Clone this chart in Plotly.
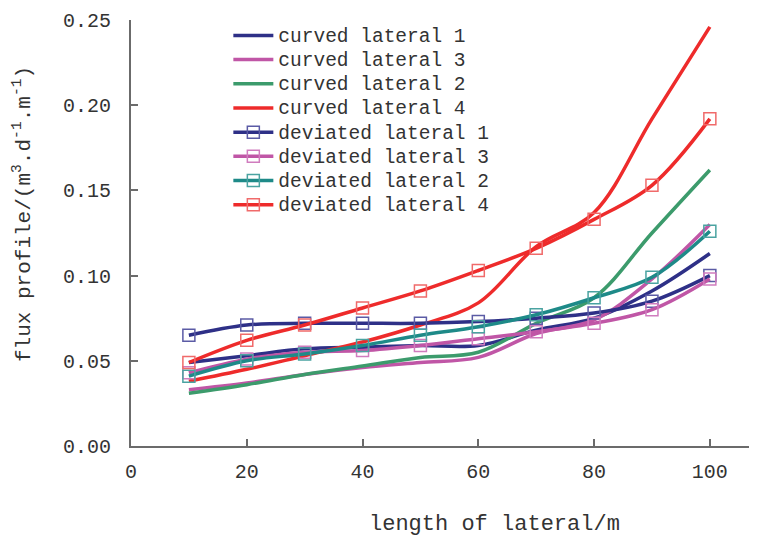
import plotly.graph_objects as go

x_len = [10, 20, 30, 40, 50, 60, 70, 80, 90, 100]

curved_1 = [0.049, 0.053, 0.057, 0.058, 0.059, 0.059, 0.068, 0.075, 0.091, 0.113]
curved_3 = [0.033, 0.037, 0.042, 0.046, 0.049, 0.052, 0.066, 0.074, 0.098, 0.130]
curved_2 = [0.031, 0.036, 0.042, 0.047, 0.052, 0.055, 0.072, 0.087, 0.125, 0.162]
curved_4 = [0.038, 0.045, 0.053, 0.061, 0.071, 0.084, 0.117, 0.137, 0.192, 0.246]
deviated_1 = [0.065, 0.071, 0.072, 0.072, 0.072, 0.073, 0.075, 0.078, 0.085, 0.100]
deviated_3 = [0.043, 0.051, 0.055, 0.056, 0.059, 0.063, 0.067, 0.072, 0.080, 0.098]
deviated_2 = [0.041, 0.050, 0.054, 0.059, 0.065, 0.070, 0.077, 0.087, 0.099, 0.126]
deviated_4 = [0.049, 0.062, 0.071, 0.081, 0.091, 0.103, 0.116, 0.133, 0.153, 0.192]

names = ["curved lateral 1", "curved lateral 3", "curved lateral 2", "curved lateral 4",
         "deviated lateral 1", "deviated lateral 3", "deviated lateral 2", "deviated lateral 4"]
series = [curved_1, curved_3, curved_2, curved_4, deviated_1, deviated_3, deviated_2, deviated_4]
colors = ["#2E3087", "#C056A6", "#3C9B6C", "#EE2B2B", "#2E3087", "#C056A6", "#1E8A88", "#EE2B2B"]
marker_colors = [None, None, None, None, "#5B5BA5", "#D07CBE", "#4AA3A1", "#F06A6A"]

x_title = "length of lateral/m"
y_title = "flux profile/(m<sup>3</sup>.d<sup>-1</sup>.m<sup>-1</sup>)"

FONT = "Liberation Mono"
TXT = "#333333"

fig = go.Figure()
for name, ys, c, mc in zip(names, series, colors, marker_colors):
    label = '<span style="font-size:19.5px">' + name + "</span>"
    if mc is None:
        fig.add_trace(go.Scatter(x=x_len, y=ys, name=label, mode="lines",
                                 line=dict(color=c, width=3.5, shape="spline", smoothing=1)))
    else:
        fig.add_trace(go.Scatter(x=x_len, y=ys, name=label, mode="lines+markers",
                                 line=dict(color=c, width=3.5, shape="spline", smoothing=1),
                                 marker=dict(symbol="square-open", size=12, color=mc,
                                             line=dict(width=1.5, color=mc))))

# the page body has an 8px default margin; margins below compensate for it
fig.update_layout(
    width=757, height=537,
    margin=dict(l=123, r=10, t=12, b=99, autoexpand=False),
    paper_bgcolor="white", plot_bgcolor="white",
    font=dict(family=FONT, size=19, color=TXT),
    showlegend=True,
    legend=dict(x=0.156, y=1.004, xanchor="left", yanchor="top",
                bgcolor="rgba(0,0,0,0)", font=dict(family=FONT, size=16.3, color=TXT),
                tracegroupgap=0, itemwidth=40),
    xaxis=dict(range=[0, 107.8], tickvals=[0, 20, 40, 60, 80, 100], automargin=False,
               showgrid=False, zeroline=False, showline=True, linecolor="#6b6b6b", linewidth=2,
               ticks="inside", ticklen=7, tickcolor="#6b6b6b", tickwidth=2, ticklabelstandoff=6,
               tickfont=dict(family=FONT, size=20, color=TXT)),
    yaxis=dict(range=[0, 0.25], tickvals=[0, 0.05, 0.10, 0.15, 0.20, 0.25], tickformat=".2f",
               automargin=False,
               showgrid=False, zeroline=False, showline=True, linecolor="#6b6b6b", linewidth=2,
               ticks="inside", ticklen=7, tickcolor="#6b6b6b", tickwidth=2, ticklabelstandoff=14,
               tickfont=dict(family=FONT, size=20, color=TXT)),
    annotations=[
        dict(text=x_title, xref="paper", yref="paper", x=0.583, y=-(524 - 446) / 426,
             xanchor="center", yanchor="middle", showarrow=False,
             font=dict(family=FONT, size=22, color=TXT)),
        dict(text=y_title, xref="paper", yref="paper", x=(22 - 131) / 624, y=1 - (214 - 20) / 426,
             xanchor="center", yanchor="middle", showarrow=False, textangle=-90,
             font=dict(family=FONT, size=21, color=TXT)),
    ],
)

fig.write_html("out.html")
